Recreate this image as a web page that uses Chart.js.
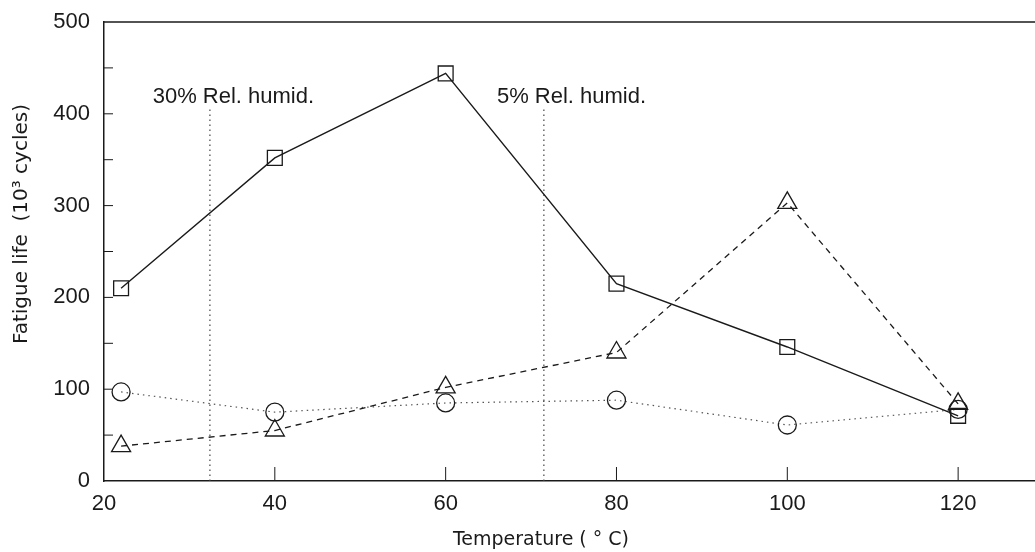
<!DOCTYPE html>
<html>
<head>
<meta charset="utf-8">
<script src="https://cdn.jsdelivr.net/npm/chart.js@4"></script>
<style>
  body { margin: 0; background: #fff; overflow: hidden; }
  #wrap { width: 1035px; height: 552px; }
</style>
</head>
<body>
<div id="wrap"><canvas id="fatigueChart"></canvas></div>
<script>
// values
const temps = [22, 40, 60, 80, 100, 120];
const lifeSquare = [210, 352, 444, 215, 146, 71];
const lifeTriangle = [38, 55, 102, 140, 303, 84];
const lifeCircle = [97, 75, 85, 88, 61, 78];
const humidLineX = [32.4, 71.5];
const humidLineTop = 405;
const humidLabels = ["30% Rel. humid.", "5% Rel. humid."];
const xTitle = "Temperature ( ° C)";
const yTitle = "Fatigue life  (10³ cycles)";

const ink = "#1a1a1a";

function pts(ys) {
  return temps.map((t, i) => ({ x: t, y: ys[i] }));
}

const paperPlugin = {
  id: "paper",
  afterDraw(chart) {
    const ctx = chart.ctx;
    const a = chart.chartArea;
    const x = chart.scales.x;
    const y = chart.scales.y;
    ctx.save();
    // top frame line
    ctx.strokeStyle = ink;
    ctx.lineWidth = 1.5;
    ctx.beginPath();
    ctx.moveTo(a.left, a.top);
    ctx.lineTo(chart.width, a.top);
    ctx.stroke();
    // inward tick marks
    ctx.lineWidth = 1;
    ctx.beginPath();
    for (let v = 50; v < 500; v += 50) {
      const py = y.getPixelForValue(v);
      ctx.moveTo(a.left, py);
      ctx.lineTo(a.left + 9, py);
    }
    x.ticks.forEach((t) => {
      if (t.value === x.min) return;
      const px = x.getPixelForValue(t.value);
      ctx.moveTo(px, a.bottom);
      ctx.lineTo(px, a.bottom - 14);
    });
    ctx.stroke();

    // humidity labels
    ctx.fillStyle = ink;
    ctx.font = "22px 'Liberation Sans', Arial, sans-serif";
    ctx.textBaseline = "middle";
    ctx.textAlign = "left";
    ctx.fillText(humidLabels[0], x.getPixelForValue(25.7), y.getPixelForValue(418));
    ctx.fillText(humidLabels[1], x.getPixelForValue(66), y.getPixelForValue(418));

    // axis titles
    ctx.font = "19px 'DejaVu Sans', sans-serif";
    ctx.textAlign = "center";
    ctx.fillText(xTitle, 541, 540);
    ctx.translate(22, 224);
    ctx.rotate(-Math.PI / 2);
    ctx.font = "20px 'DejaVu Sans', sans-serif";
    ctx.fillText(yTitle, 0, 0);
    ctx.restore();
  }
};

const ctx = document.getElementById("fatigueChart");
new Chart(ctx, {
  type: "line",
  data: {
    datasets: [
      {
        label: "square",
        data: pts(lifeSquare),
        borderColor: ink,
        borderWidth: 1.4,
        pointStyle: "rect",
        pointRadius: 10.5,
        pointBorderColor: ink,
        pointBorderWidth: 1.3,
        pointBackgroundColor: "rgba(0,0,0,0)"
      },
      {
        label: "triangle",
        data: pts(lifeTriangle),
        borderColor: ink,
        borderWidth: 1.3,
        borderDash: [6, 5],
        pointStyle: "triangle",
        pointRadius: 11,
        pointBorderColor: ink,
        pointBorderWidth: 1.3,
        pointBackgroundColor: "rgba(0,0,0,0)"
      },
      {
        label: "circle",
        data: pts(lifeCircle),
        borderColor: "#555",
        borderWidth: 1.2,
        borderDash: [1.5, 4],
        pointStyle: "circle",
        pointRadius: 9,
        pointBorderColor: ink,
        pointBorderWidth: 1.3,
        pointBackgroundColor: "rgba(0,0,0,0)"
      },
      {
        label: "30%",
        data: [{ x: humidLineX[0], y: 0 }, { x: humidLineX[0], y: humidLineTop }],
        borderColor: "#444",
        borderWidth: 1.2,
        borderDash: [1.5, 3.5],
        pointRadius: 0
      },
      {
        label: "5%",
        data: [{ x: humidLineX[1], y: 0 }, { x: humidLineX[1], y: humidLineTop }],
        borderColor: "#444",
        borderWidth: 1.2,
        borderDash: [1.5, 3.5],
        pointRadius: 0
      }
    ]
  },
  options: {
    responsive: true,
    maintainAspectRatio: false,
    animation: false,
    layout: { autoPadding: false, padding: { top: 22, right: 0, left: 0, bottom: 0 } },
    plugins: { legend: { display: false }, tooltip: { enabled: false } },
    scales: {
      x: {
        type: "linear",
        min: 20,
        max: 129,
        afterFit: (s) => { s.height = 71; s.paddingLeft = 0; s.paddingRight = 0; },
        grid: { display: true, drawOnChartArea: false, drawTicks: false },
        border: { color: ink, width: 1.5 },
        ticks: {
          stepSize: 20,
          includeBounds: false,
          padding: 10,
          color: ink,
          font: { size: 22, family: "'Liberation Sans', Arial, sans-serif" }
        }
      },
      y: {
        min: 0,
        max: 500,
        afterFit: (s) => { s.width = 104; s.paddingTop = 0; s.paddingBottom = 0; },
        grid: { display: true, drawOnChartArea: false, drawTicks: false },
        border: { color: ink, width: 1.5 },
        ticks: {
          stepSize: 100,
          padding: 14,
          color: ink,
          font: { size: 22, family: "'Liberation Sans', Arial, sans-serif" }
        }
      }
    }
  },
  plugins: [paperPlugin]
});
</script>
</body>
</html>
